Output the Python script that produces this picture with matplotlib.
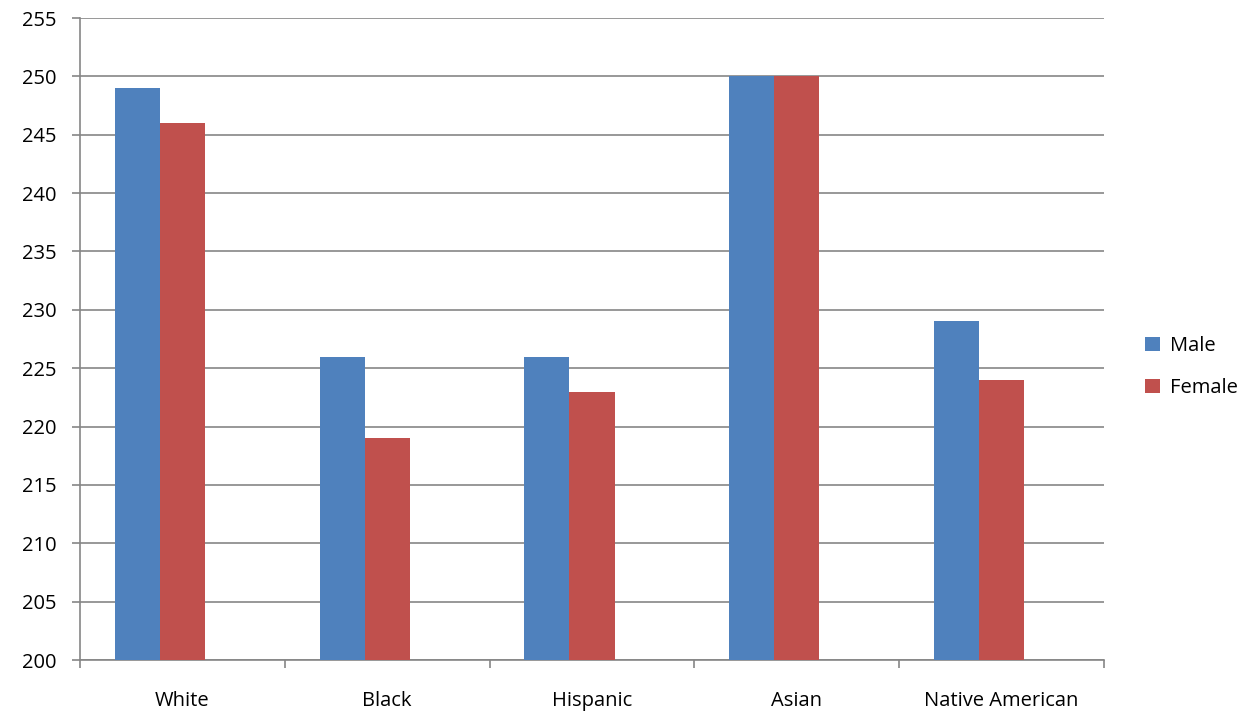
import numpy as np
import matplotlib.pyplot as plt

categories = ["White", "Black", "Hispanic", "Asian", "Native American"]
male = [249, 226, 226, 250, 229]
female = [246, 219, 223, 250, 224]

plt.rcParams['font.family'] = ['Open Sans', 'DejaVu Sans']

fig = plt.figure(figsize=(12.4, 7.15), dpi=100)
ax = fig.add_axes([80/1240, 1 - 660/715, (1104-80)/1240, (660-18)/715])

x = np.arange(len(categories))
w = 0.22
ax.bar(x - w, male, w, align='center', color='#4F81BD', label='Male', zorder=3)
ax.bar(x, female, w, align='center', color='#C0504D', label='Female', zorder=3)

ax.set_xlim(-0.5, len(categories) - 0.5)
ax.set_ylim(200, 255)
ax.set_yticks(np.arange(200, 256, 5))
ax.yaxis.grid(True, color='#868686', linewidth=1.2, zorder=0)

# category labels between boundary ticks
ax.set_xticks(np.arange(-0.5, len(categories), 1))
ax.set_xticklabels([])
ax.set_xticks(x, minor=True)
ax.set_xticklabels(categories, minor=True)
ax.tick_params(axis='x', which='minor', length=0, pad=22, labelsize=14.5)
ax.tick_params(axis='x', which='major', length=6, color='#868686', width=1.2)
ax.tick_params(axis='y', length=6, color='#868686', width=1.2, labelsize=14.5, pad=11)

for s in ['top', 'right']:
    ax.spines[s].set_visible(False)
for s in ['left', 'bottom']:
    ax.spines[s].set_color('#868686')
    ax.spines[s].set_linewidth(1.2)

fig.legend(loc='center left', bbox_to_anchor=(1127/1240, 1 - 367/715), frameon=False,
           fontsize=14.5, handlelength=0.75, handleheight=0.75, labelspacing=1.1,
           handletextpad=0.5)

fig.savefig('out.png', dpi=100)
